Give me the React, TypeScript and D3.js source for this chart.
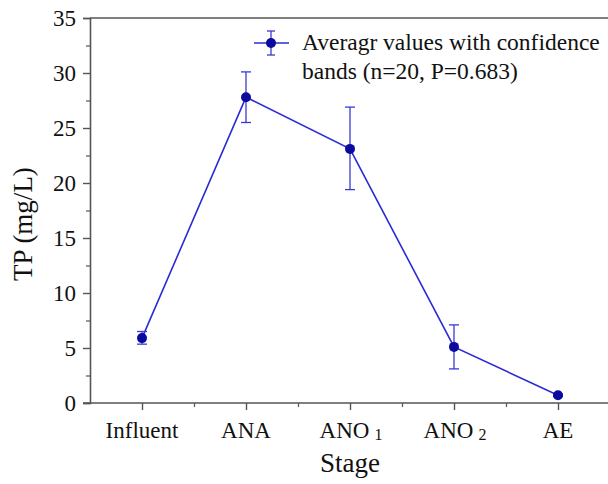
import { useEffect, useRef } from 'react'
import * as d3 from 'd3'

// stage categories and mean TP with confidence band
const stages = ['Influent', 'ANA', 'ANO', 'ANO', 'AE']
const stageSubs = ['', '', '1', '2', '']
const means = [5.9, 27.8, 23.1, 5.1, 0.7]
const lows = [5.35, 25.5, 19.4, 3.1, 0.6]
const highs = [6.5, 30.1, 26.9, 7.1, 0.8]
const yTicks = [0, 5, 10, 15, 20, 25, 30, 35]

const W = 608
const H = 484
const M = { top: 18, left: 90, bottom: 81 }
const FONT = "'Liberation Serif', 'DejaVu Serif', serif"
const LINE = '#2b2bd6'
const DOT = '#0a0a9e'
const AXIS = '#555'

export default function App() {
  const ref = useRef<SVGSVGElement>(null)

  useEffect(() => {
    if (!ref.current) return
    const svg = d3.select(ref.current)
    svg.selectAll('*').remove()

    const x = d3.scaleLinear().domain([-0.5, 4.5]).range([M.left, M.left + 520])
    const y = d3.scaleLinear().domain([0, 35]).range([H - M.bottom, M.top])
    const g = svg.append('g').style('font-family', FONT)

    // y axis
    const yAx = g.append('g').attr('transform', `translate(${M.left},0)`)
      .call(d3.axisLeft(y).tickValues(yTicks).tickSize(7).tickPadding(7))
    yAx.attr('font-family', null)
    yAx.select('.domain').attr('stroke', AXIS).attr('stroke-width', 1.6)
    yAx.selectAll('.tick line').attr('stroke', AXIS).attr('stroke-width', 1.4)
    yAx.selectAll('.tick text').style('font-family', FONT).attr('font-size', 23).attr('fill', '#111')
    g.append('g').attr('transform', `translate(${M.left},0)`)
      .call(d3.axisLeft(y).tickValues(yTicks.slice(0, -1).map(v => v + 2.5)).tickSize(4).tickFormat(() => ''))
      .call(s => s.select('.domain').remove())
      .selectAll('.tick line').attr('stroke', AXIS).attr('stroke-width', 1.2)

    // x axis
    const xAx = g.append('g').attr('transform', `translate(0,${y(0)})`)
      .call(d3.axisBottom(x).tickValues(d3.range(0, 5)).tickSize(7).tickFormat(() => ''))
    xAx.select('.domain').attr('stroke', AXIS).attr('stroke-width', 1.6)
      .attr('d', `M${M.left - 7},0H${W + 10}`)
    xAx.selectAll('.tick line').attr('stroke', AXIS).attr('stroke-width', 1.4)
    g.append('g').attr('transform', `translate(0,${y(0)})`)
      .call(d3.axisBottom(x).tickValues(d3.range(0, 4).map(v => v + 0.5)).tickSize(4).tickFormat(() => ''))
      .call(s => s.select('.domain').remove())
      .selectAll('.tick line').attr('stroke', AXIS).attr('stroke-width', 1.2)

    // category labels
    stages.forEach((s, i) => {
      const t = g.append('text')
        .attr('x', x(i) + (stageSubs[i] ? 1 : 0)).attr('y', y(0) + 35)
        .attr('text-anchor', 'middle')
        .style('font-family', FONT).attr('font-size', 23).attr('fill', '#111')
      t.append('tspan').text(s)
      if (stageSubs[i]) {
        t.append('tspan').attr('dx', 5).attr('dy', 2).attr('font-size', 16).text(stageSubs[i])
      }
    })

    // top frame
    g.append('line')
      .attr('x1', M.left).attr('x2', W + 10).attr('y1', y(35)).attr('y2', y(35))
      .attr('stroke', AXIS).attr('stroke-width', 1.6)

    // axis titles
    g.append('text')
      .attr('x', x(2)).attr('y', H - 12)
      .attr('text-anchor', 'middle')
      .style('font-family', FONT).attr('font-size', 27).attr('fill', '#111')
      .text('Stage')
    g.append('text')
      .attr('transform', `translate(32,224) rotate(-90)`)
      .attr('text-anchor', 'middle')
      .style('font-family', FONT).attr('font-size', 27).attr('fill', '#111')
      .text('TP (mg/L)')

    // line
    g.append('path')
      .datum(means)
      .attr('d', d3.line<number>().x((_, i) => x(i)).y(d => y(d)))
      .attr('fill', 'none').attr('stroke', LINE).attr('stroke-width', 1.6)

    // error bars
    const cap = 5
    means.forEach((_, i) => {
      const eb = g.append('g').attr('stroke', '#3a3ad4').attr('stroke-width', 1.3)
      eb.append('line').attr('x1', x(i)).attr('x2', x(i)).attr('y1', y(lows[i])).attr('y2', y(highs[i]))
      eb.append('line').attr('x1', x(i) - cap).attr('x2', x(i) + cap).attr('y1', y(lows[i])).attr('y2', y(lows[i]))
      eb.append('line').attr('x1', x(i) - cap).attr('x2', x(i) + cap).attr('y1', y(highs[i])).attr('y2', y(highs[i]))
    })

    // points
    g.selectAll('.pt').data(means).join('circle')
      .attr('cx', (_, i) => x(i)).attr('cy', d => y(d))
      .attr('r', 5).attr('fill', DOT)

    // legend
    const lx = 254, ly = 43
    const lg = g.append('g')
    lg.append('line').attr('x1', lx).attr('x2', lx + 35).attr('y1', ly).attr('y2', ly)
      .attr('stroke', LINE).attr('stroke-width', 1.6)
    lg.append('line').attr('x1', lx + 17).attr('x2', lx + 17).attr('y1', ly - 12).attr('y2', ly + 12)
      .attr('stroke', '#3a3ad4').attr('stroke-width', 1.3)
    ;[ly - 12, ly + 12].forEach(yy => lg.append('line')
      .attr('x1', lx + 13).attr('x2', lx + 21).attr('y1', yy).attr('y2', yy)
      .attr('stroke', '#3a3ad4').attr('stroke-width', 1.3))
    lg.append('circle').attr('cx', lx + 17).attr('cy', ly).attr('r', 5).attr('fill', DOT)
    lg.append('text').attr('x', 302).attr('y', 50)
      .style('font-family', FONT).attr('font-size', 23.5).attr('fill', '#111')
      .text('Averagr values with confidence')
    lg.append('text').attr('x', 302).attr('y', 79)
      .style('font-family', FONT).attr('font-size', 23.5).attr('fill', '#111')
      .text('bands (n=20, P=0.683)')
  }, [])

  return (
    <svg ref={ref} width={W} height={H}
      style={{ display: 'block', position: 'absolute', left: 0, top: 0, background: '#fff' }} />
  )
}
